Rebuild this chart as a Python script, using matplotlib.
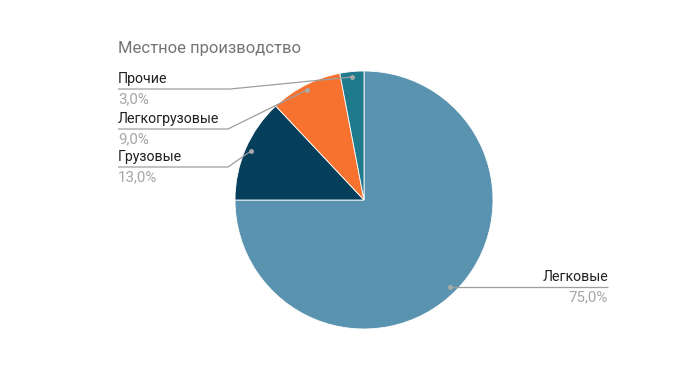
import matplotlib.pyplot as plt
from matplotlib.patches import Wedge

# data
labels = ['Легковые', 'Грузовые', 'Легкогрузовые', 'Прочие']
values = [75.0, 13.0, 9.0, 3.0]
pct_labels = ['75,0%', '13,0%', '9,0%', '3,0%']
colors = ['#5a93b0', '#063f5c', '#f8722f', '#1f7a8b']

plt.rcParams['font.family'] = ['Roboto', 'DejaVu Sans']

fig = plt.figure(figsize=(7.0, 3.79), dpi=100)
ax = fig.add_axes([0, 0, 1, 1])
ax.set_xlim(0, 700)
ax.set_ylim(379, 0)
ax.axis('off')

cx, cy, r = 364, 200, 129

# pie drawn clockwise from 12 o'clock (y axis is inverted, so angles go clockwise)
start = -90.0
total = sum(values)
for v, c in zip(values, colors):
    span = 360.0 * v / total
    ax.add_patch(Wedge((cx, cy), r, start, start + span, facecolor=c,
                       edgecolor='white', linewidth=0.6))
    start += span

# leader lines: dot point, elbow, end of horizontal line
leaders = {
    'Прочие': [(352, 77), (230, 89), (118, 89)],
    'Легкогрузовые': [(307, 90), (228, 129), (118, 129)],
    'Грузовые': [(251, 151), (228, 167), (118, 167)],
    'Легковые': [(450, 287), (450, 287), (608, 287)],
}

for lab, pct in zip(labels, pct_labels):
    pts = leaders[lab]
    xs = [p[0] for p in pts]
    ys = [p[1] for p in pts]
    ax.plot(xs, ys, color='#9e9e9e', linewidth=0.9, solid_capstyle='butt')
    ax.plot(pts[0][0], pts[0][1], 'o', color='#aaaaaa', markersize=2.5)
    ex, ey = pts[2]
    ha = 'right' if lab == 'Легковые' else 'left'
    ax.text(ex, ey - 3, lab, ha=ha, va='bottom', fontsize=10.2, color='#212121')
    ax.text(ex, ey + 3, pct, ha=ha, va='top', fontsize=10.8, color='#a6a6a6')

ax.text(118, 48, 'Местное производство', ha='left', va='center', fontsize=12,
        color='#757575')

fig.savefig('out.png', dpi=100, facecolor='white')
